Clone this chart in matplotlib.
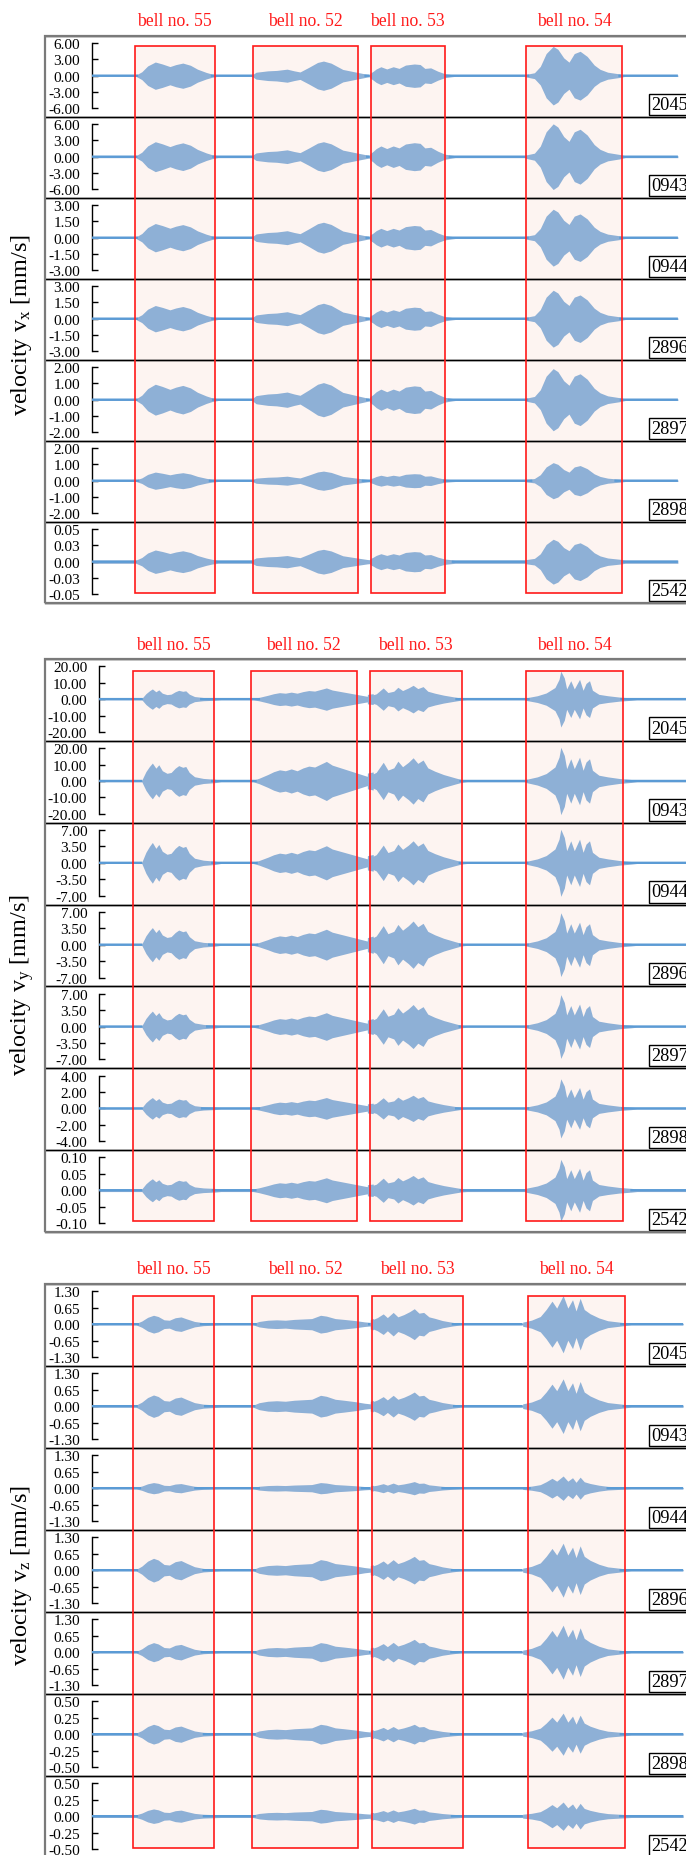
import numpy as np
import matplotlib
matplotlib.use("Agg")
import matplotlib.pyplot as plt
from matplotlib.patches import Rectangle
import matplotlib.transforms as mtransforms

plt.rcParams['font.family'] = ['Liberation Serif', 'DejaVu Serif']
plt.rcParams['mathtext.fontset'] = 'custom'
plt.rcParams['mathtext.rm'] = 'Liberation Serif'
plt.rcParams['mathtext.it'] = 'Liberation Serif:italic'
plt.rcParams['axes.unicode_minus'] = False

# ---------------------------------------------------------------- data
stations = ['2045', '0943', '0944', '2896', '2897', '2898', '2542']
bells = ['55', '52', '53', '54']

# axis limits (top tick value) of each station trace
vx_top = [6.0, 6.0, 3.0, 3.0, 2.0, 2.0, 0.05]
vy_top = [20.0, 20.0, 7.0, 7.0, 7.0, 4.0, 0.10]
vz_top = [1.3, 1.3, 1.3, 1.3, 1.3, 0.5, 0.5]

# time windows of each bell ringing [s]
vx_windows = [(7.3, 21.0), (27.5, 45.4), (47.6, 60.2), (74.1, 90.4)]
vy_windows = [(7.0, 20.8), (27.1, 45.2), (47.4, 63.1), (74.1, 90.6)]
vz_windows = [(7.0, 20.8), (27.3, 45.4), (47.8, 63.3), (74.4, 91.0)]

# record start / end [s]
vx_span = (0.0, 100.0)
vy_span = (1.2, 102.5)
vz_span = (0.0, 100.9)

# peak amplitude of each bell per station (fraction of top tick)
vx_peak_55 = [0.40, 0.43, 0.41, 0.38, 0.45, 0.24, 0.31]
vx_peak_52 = [0.43, 0.43, 0.45, 0.45, 0.50, 0.27, 0.33]
vx_peak_53 = [0.34, 0.40, 0.35, 0.33, 0.40, 0.19, 0.26]
vx_peak_54 = [0.88, 0.98, 0.85, 0.85, 0.93, 0.53, 0.64]

vy_peak_55 = [0.29, 0.52, 0.60, 0.50, 0.45, 0.31, 0.31]
vy_peak_52 = [0.32, 0.57, 0.50, 0.45, 0.40, 0.31, 0.34]
vy_peak_53 = [0.40, 0.68, 0.65, 0.70, 0.65, 0.38, 0.41]
vy_peak_54 = [0.83, 1.00, 1.00, 0.95, 0.95, 0.88, 0.90]

vz_peak_55 = [0.25, 0.31, 0.15, 0.34, 0.27, 0.27, 0.18]
vz_peak_52 = [0.25, 0.30, 0.15, 0.30, 0.27, 0.27, 0.17]
vz_peak_53 = [0.45, 0.40, 0.18, 0.40, 0.37, 0.27, 0.20]
vz_peak_54 = [0.85, 0.80, 0.35, 0.80, 0.80, 0.61, 0.39]

# background noise level per station (fraction of top tick)
vx_noise = [0.02, 0.03, 0.025, 0.025, 0.025, 0.025, 0.05]
vy_noise = [0.02, 0.025, 0.02, 0.02, 0.02, 0.02, 0.04]
vz_noise = [0.02, 0.03, 0.02, 0.02, 0.02, 0.03, 0.04]

# normalised envelope of each bell: (time [s], relative amplitude)
vx_env_55 = [(7.5, 0), (8.5, 0.25), (9.5, 0.7), (10.8, 1.0), (12.0, 0.85), (13.3, 0.65),
             (14.3, 0.8), (15.5, 0.92), (16.8, 0.75), (18.0, 0.45), (19.5, 0.2), (20.5, 0.07), (21.5, 0)]
vx_env_52 = [(27.3, 0), (28.0, 0.2), (30.0, 0.3), (31.5, 0.33), (33.3, 0.42), (34.5, 0.3), (35.5, 0.22),
             (37.0, 0.55), (38.5, 0.9), (39.5, 1.0), (40.8, 0.85), (42.8, 0.4), (45.4, 0.18), (47.0, 0.05), (48.0, 0)]
vx_env_53 = [(47.4, 0.1), (48.5, 0.55), (49.3, 0.75), (50.3, 0.55), (51.4, 0.75), (52.4, 0.6), (53.5, 0.9),
             (55.0, 1.0), (56.0, 0.95), (56.8, 0.6), (57.8, 0.65), (59.0, 0.35), (60.2, 0.12), (61.5, 0.03), (62.0, 0)]
vx_env_54 = [(74.0, 0.02), (75.5, 0.08), (76.5, 0.3), (77.5, 0.75), (78.7, 1.0), (79.5, 0.9), (80.5, 0.6),
             (81.4, 0.45), (82.3, 0.75), (83.3, 0.83), (84.5, 0.65), (85.7, 0.35), (86.7, 0.2), (88.0, 0.1),
             (90.0, 0.04), (91.0, 0)]

vy_env_55 = [(8.5, 0), (9.2, 0.5), (9.8, 0.8), (10.3, 1.0), (10.9, 0.7), (11.4, 0.9), (12.0, 0.55),
             (12.8, 0.4), (13.5, 0.45), (14.2, 0.7), (14.8, 0.85), (15.5, 0.75), (16.0, 0.8), (16.6, 0.45),
             (17.5, 0.2), (19.0, 0.1), (21.0, 0.05), (22.0, 0)]
vy_env_52 = [(27.5, 0), (28.5, 0.1), (30.0, 0.3), (31.0, 0.45), (32.0, 0.55), (33.0, 0.5), (34.0, 0.6),
             (35.0, 0.5), (36.0, 0.65), (37.0, 0.75), (38.0, 0.7), (39.0, 0.85), (40.0, 1.0), (41.0, 0.8),
             (42.0, 0.7), (43.0, 0.6), (44.0, 0.5), (45.5, 0.35), (47.0, 0.2), (48.0, 0.1)]
vy_env_53 = [(47.0, 0.15), (48.5, 0.35), (49.7, 0.8), (50.5, 0.45), (51.5, 0.55), (52.2, 0.85), (53.0, 0.6),
             (54.0, 0.8), (54.8, 1.0), (55.6, 0.75), (56.5, 0.9), (57.3, 0.55), (58.5, 0.4), (60.0, 0.25),
             (62.0, 0.1), (63.0, 0.03), (64.0, 0)]
vy_env_54 = [(74.0, 0.02), (76.0, 0.1), (77.5, 0.2), (79.0, 0.4), (79.7, 0.7), (80.0, 1.0), (80.6, 0.75),
             (81.0, 0.35), (81.7, 0.65), (82.3, 0.35), (83.2, 0.7), (83.8, 0.3), (84.3, 0.55), (84.9, 0.65),
             (85.4, 0.3), (86.5, 0.15), (88.0, 0.1), (90.0, 0.05), (92.0, 0.02), (93.0, 0)]

vz_env_55 = [(7.5, 0), (8.5, 0.3), (9.5, 0.75), (10.5, 1.0), (11.3, 0.85), (12.3, 0.45), (13.2, 0.4),
             (14.2, 0.7), (15.2, 0.8), (16.2, 0.55), (17.5, 0.25), (19.0, 0.1), (21.0, 0.03), (22.0, 0)]
vz_env_52 = [(27.5, 0), (28.5, 0.25), (30.0, 0.4), (31.5, 0.45), (33.0, 0.4), (34.5, 0.5), (36.0, 0.55),
             (37.5, 0.6), (39.0, 1.0), (40.0, 0.9), (41.5, 0.6), (43.0, 0.5), (45.0, 0.35), (46.5, 0.2), (48.0, 0.1)]
vz_env_53 = [(47.5, 0.2), (48.7, 0.4), (49.7, 0.65), (50.4, 0.4), (51.4, 0.75), (52.2, 0.45), (53.2, 0.6),
             (54.2, 0.8), (55.0, 1.0), (55.8, 0.7), (56.6, 0.75), (57.5, 0.45), (58.5, 0.35), (59.8, 0.2),
             (61.5, 0.08), (63.0, 0)]
vz_env_54 = [(73.5, 0.05), (75.0, 0.12), (76.5, 0.25), (77.5, 0.5), (78.5, 0.8), (79.3, 0.55), (80.4, 1.0),
             (81.2, 0.55), (82.0, 0.85), (82.6, 0.45), (83.3, 0.9), (84.0, 0.5), (85.0, 0.35), (86.5, 0.2),
             (88.0, 0.1), (90.0, 0.05), (92.0, 0)]

# ---------------------------------------------------------------- layout
W, H, DPI = 686, 1856, 100
FRAME_L, FRAME_R = 45, 720           # panel frame (px)
T0_PX, PX_PER_S = 92, 5.86            # time origin / scale (px)

panels = [
    dict(comp='x', top=37, bottom=604, rect=(47, 594), label_y=22, label_cy=325,
         tops=vx_top, windows=vx_windows, span=vx_span, noise=vx_noise,
         peaks=[vx_peak_55, vx_peak_52, vx_peak_53, vx_peak_54],
         envs=[vx_env_55, vx_env_52, vx_env_53, vx_env_54]),
    dict(comp='y', top=660, bottom=1233, rect=(672, 1222), label_y=646, label_cy=985,
         tops=vy_top, windows=vy_windows, span=vy_span, noise=vy_noise,
         peaks=[vy_peak_55, vy_peak_52, vy_peak_53, vy_peak_54],
         envs=[vy_env_55, vy_env_52, vy_env_53, vy_env_54]),
    dict(comp='z', top=1285, bottom=1859, rect=(1297, 1849), label_y=1270, label_cy=1576,
         tops=vz_top, windows=vz_windows, span=vz_span, noise=vz_noise,
         peaks=[vz_peak_55, vz_peak_52, vz_peak_53, vz_peak_54],
         envs=[vz_env_55, vz_env_52, vz_env_53, vz_env_54]),
]

FILL = '#8eb0d6'
BASE = '#5b9bd5'
RED = '#ff1a1a'
PINK = '#fdf4f1'

fig = plt.figure(figsize=(W / DPI, H / DPI), dpi=DPI)
xlim = ((FRAME_L - T0_PX) / PX_PER_S, (FRAME_R - T0_PX) / PX_PER_S)

for p in panels:
    rowh = (p['bottom'] - p['top']) / 7.0
    t = np.arange(p['span'][0], p['span'][1], 0.02)
    axes = []
    for i, st in enumerate(stations):
        y0 = p['top'] + i * rowh
        ax = fig.add_axes([FRAME_L / W, 1 - (y0 + rowh) / H, (FRAME_R - FRAME_L) / W, rowh / H])
        ax.patch.set_visible(False)
        top = p['tops'][i]
        env = np.full_like(t, p['noise'][i] * top)
        for b in range(4):
            kt, ka = zip(*p['envs'][b])
            env += p['peaks'][b][i] * top * np.interp(t, kt, ka, left=0, right=0)
        ax.fill_between(t, -env, env, color=FILL, lw=0, zorder=2)
        base = np.where(env < 0.06 * top, 0.0, np.nan)
        ax.plot(t, base, color=BASE, lw=1.7, zorder=3, solid_capstyle='butt')

        ax.set_xlim(*xlim)
        ax.set_ylim(-1.27 * top, 1.22 * top)
        ax.set_xticks([])
        ticks = [top, top / 2, 0.0, -top / 2, -top]
        ax.set_yticks(ticks)
        ax.set_yticklabels(['%.2f' % v for v in ticks])
        ax.tick_params(axis='y', direction='in', length=4, width=1.0, pad=8.5,
                       labelsize=11, colors='black')
        ax.spines['left'].set_position(('data', p['span'][0]))
        ax.spines['left'].set_bounds(-top, top)
        ax.spines['left'].set_linewidth(1.0)
        ax.spines['right'].set_visible(False)
        for s in ('top', 'bottom'):
            ax.spines[s].set_linewidth(1.0)
            ax.spines[s].set_color('black')

        # station label box
        lab_tr = mtransforms.blended_transform_factory(fig.transFigure, ax.transAxes)
        ax.text(651.5 / W, 4.2 / rowh, st, transform=lab_tr, fontsize=13.2,
                ha='left', va='bottom', zorder=6, clip_on=False,
                bbox=dict(boxstyle='square,pad=0.12', fc='white', ec='black', lw=1.0))
        axes.append(ax)

    # outer frame of the panel
    fig.add_artist(Rectangle((FRAME_L / W, 1 - p['bottom'] / H), (FRAME_R - FRAME_L) / W,
                             (p['bottom'] - p['top']) / H, transform=fig.transFigure,
                             fill=False, ec='#7a7a7a', lw=1.6, zorder=5))

    # bell windows spanning all stations
    blend = mtransforms.blended_transform_factory(axes[0].transData, fig.transFigure)
    r_top, r_bot = p['rect']
    for (t0, t1), name in zip(p['windows'], bells):
        fig.add_artist(Rectangle((t0, 1 - r_bot / H), t1 - t0, (r_bot - r_top) / H,
                                 transform=blend, fc=PINK, ec='none', zorder=-1))
        fig.add_artist(Rectangle((t0, 1 - r_bot / H), t1 - t0, (r_bot - r_top) / H,
                                 transform=blend, fill=False, ec=RED, lw=1.2, zorder=4))
        fig.text((t0 + t1) / 2, 1 - p['label_y'] / H, 'bell no. ' + name, transform=blend,
                 color=RED, fontsize=12.7, ha='center', va='center')

    fig.text(22 / W, 1 - p['label_cy'] / H,
             'velocity v$_\\mathrm{%s}$ [mm/s]' % p['comp'],
             rotation=90, fontsize=17.5, ha='center', va='center')

fig.savefig('out.png', dpi=DPI)
